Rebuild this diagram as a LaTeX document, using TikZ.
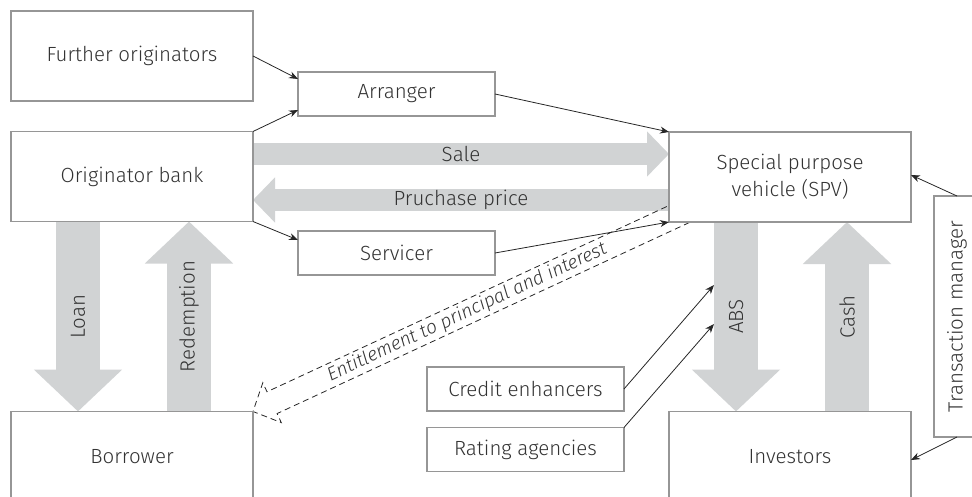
\documentclass[tikz,border=0pt]{standalone}
\usepackage{fontspec}
\setmainfont{Fira Sans Light}[ItalicFont={Fira Sans Light Italic}]
\usetikzlibrary{arrows.meta,calc}
\definecolor{flowgray}{RGB}{209,211,212}
\definecolor{boxgray}{RGB}{150,150,150}
\definecolor{txtgray}{RGB}{51,51,51}
\pgfdeclarelayer{back}
\pgfsetlayers{back,main}
\tikzset{
  party/.style={draw=boxgray, line width=1.5pt, fill=white, text=txtgray, inner sep=0pt, outer sep=0pt,
    minimum width=242pt, minimum height=90pt, align=center},
  agent/.style={party, minimum width=197pt, minimum height=44pt},
  link/.style={line width=0.8pt, color=black!85, -{Stealth[length=9pt,width=7pt]}},
  flowh/.style={line width=22pt, color=flowgray, -{Triangle[length=22pt,width=44pt]}},
  flowv/.style={line width=44pt, color=flowgray, -{Triangle[length=42pt,width=86pt]}},
  flowtext/.style={text=txtgray, midway},
  entline/.style={line width=0.8pt, dash pattern=on 6pt off 4pt, color=black!85},
}

\begin{document}
\begin{tikzpicture}[x=1pt,y=-1pt,font=\fontsize{20.5}{27}\selectfont]
  \useasboundingbox (0,0) rectangle (972,497);
  \node[party] (furth) at (132,56) {Further originators};
  \node[agent] (arr) at (396.5,94) {Arranger};
  \node[party] (orig) at (132,176.5) {Originator bank};
  \node[agent] (serv) at (396.5,253) {Servicer};
  \node[party] (spv) at (790,177) {Special purpose\\vehicle (SPV)};
  \node[party, minimum width=46pt, minimum height=241pt] (trans) at (957,316.5) {\rotatebox{90}{Transaction manager}};
  \node[party] (borr) at (132,456.5) {Borrower};
  \node[agent] (cred) at (525.5,389) {Credit enhancers};
  \node[agent] (rate) at (525.5,449.5) {Rating agencies};
  \node[party] (inv) at (790,456.5) {Investors};

  \coordinate (absA) at (714,285);
  \coordinate (absB) at (714,324);
  \coordinate (entA) at (690,209);

  \begin{pgfonlayer}{back}
    % wide flows
    \draw[flowh] ([yshift=22.5pt]orig.east) -- ([yshift=23pt]spv.west) node[flowtext]{Sale};
    \draw[flowh] ([yshift=-23pt]spv.west) -- ([yshift=-23.5pt]orig.east) node[flowtext]{Pruchase price};
    \draw[flowv] ([xshift=-54pt]orig.south) -- ([xshift=-54pt]borr.north) node[flowtext, rotate=90]{Loan};
    \draw[flowv] ([xshift=57pt]borr.north) -- ([xshift=57pt]orig.south) node[flowtext, rotate=90]{Redemption};
    \draw[flowv] ([xshift=-54pt]spv.south) -- ([xshift=-54pt]inv.north) node[flowtext, rotate=90]{ABS};
    \draw[flowv] ([xshift=57pt]inv.north) -- ([xshift=57pt]spv.south) node[flowtext, rotate=90]{Cash};
    % hollow dashed flow
    \path (borr.north east) coordinate (entT) ($(entT)!21pt!(entA)$) coordinate (entH);
    \draw[entline] ($(entA)!12pt!-90:(entH)$) -- ($(entH)!12pt!90:(entA)$) -- ($(entH)!22pt!90:(entA)$)
      -- (entT) -- ($(entH)!22pt!-90:(entA)$) -- ($(entH)!12pt!-90:(entA)$) -- ($(entA)!12pt!90:(entH)$);
    \path (entT) -- (entA) node[pos=0.49, sloped, text=txtgray, font=\fontsize{19}{22}\selectfont\itshape]{Entitlement to principal and interest};
  \end{pgfonlayer}

  \draw[link] (furth.east) -- ([yshift=15pt]arr.west);
  \draw[link] (orig.north east) -- ([yshift=-16pt]arr.west);
  \draw[link] (orig.south east) -- ([yshift=13pt]serv.west);
  \draw[link] (arr.east) -- (spv.north west);
  \draw[link] (serv.east) -- (spv.south west);
  \draw[link] (trans.north) -- ([yshift=2pt]spv.east);
  \draw[link] (trans.south) -- ([yshift=-3.5pt]inv.east);
  \draw[link] (cred.east) -- (absA);
  \draw[link] (rate.north east) -- (absB);
\end{tikzpicture}
\end{document}
